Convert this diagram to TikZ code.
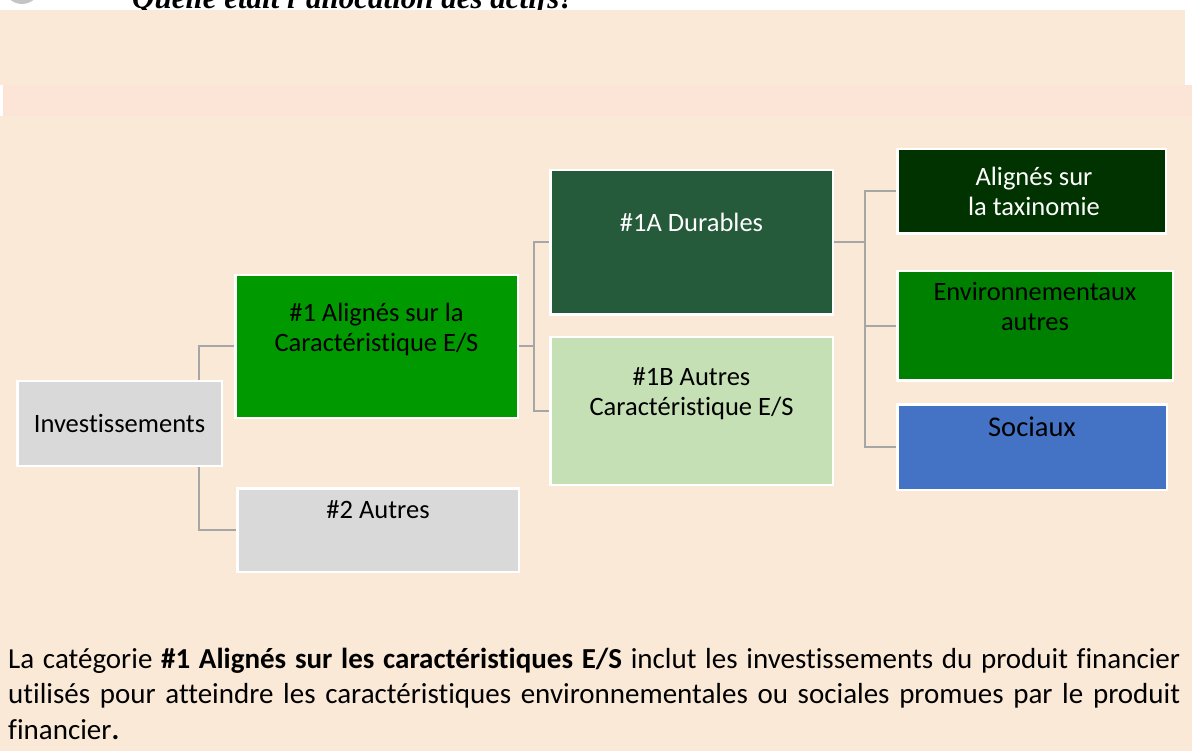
\documentclass[tikz,border=0pt]{standalone}
\usepackage{fontspec}
\setmainfont{Carlito}[Ligatures={TeX,NoCommon}]
\newfontfamily\titlefont{Liberation Serif}
\usetikzlibrary{calc}
\definecolor{peach}{HTML}{FAE9D7}
\definecolor{pinkband}{HTML}{FCE4D6}
\definecolor{circgrey}{HTML}{C4C4C4}
\definecolor{boxgrey}{HTML}{D9D9D9}
\definecolor{greenA}{HTML}{009900}
\definecolor{greenB}{HTML}{255A3B}
\definecolor{greenC}{HTML}{C5E0B4}
\definecolor{greenD}{HTML}{003300}
\definecolor{greenE}{HTML}{008000}
\definecolor{blueF}{HTML}{4472C4}
\definecolor{linegrey}{HTML}{A6A6A6}
\pgfdeclarelayer{bg}
\pgfdeclarelayer{lines}
\pgfsetlayers{bg,lines,main}
\begin{document}
\begin{tikzpicture}[x=1pt,y=-1pt,
  box/.style={draw=white,line width=2.5pt,inner sep=0pt,rectangle},
  boxtxt/.style={font=\fontsize{26.5}{29.5}\selectfont,align=center,inner sep=0pt,anchor=north},
  conn/.style={draw=linegrey,line width=2pt}]
\useasboundingbox (0,0) rectangle (1192,751);
\begin{pgfonlayer}{bg}
\begin{scope}
\clip (0,0) rectangle (1192,751);
\fill[white] (0,0) rectangle (1192,751);
\fill[circgrey] (22,-14) circle (18);
\node[anchor=base west, inner sep=0pt, font=\titlefont\bfseries\itshape\fontsize{31}{36}\selectfont] (title) at (132,9) {Quelle était l’allocation des actifs?};
\fill[peach] (0,10) rectangle (1185,85);
\fill[pinkband] (3,85) rectangle (1192,116);
\fill[peach] (0,116) rectangle (1192,751);
\end{scope}
\end{pgfonlayer}

% boxes
\node[box,fill=boxgrey,minimum width=204.5pt,minimum height=84.5pt,font=\fontsize{26.5}{29.5}\selectfont] (inv) at (119.5,423.5) {Investissements};
\node[box,fill=greenA,minimum width=282.5pt,minimum height=142.5pt] (a1) at (376.5,346.5) {};
\node[box,fill=boxgrey,minimum width=281.5pt,minimum height=83.5pt] (a2) at (378,530) {};
\node[box,fill=greenB,minimum width=282.5pt,minimum height=144.5pt] (b1) at (691.5,242.5) {};
\node[box,fill=greenC,minimum width=282.5pt,minimum height=147.5pt] (b2) at (691.5,411) {};
\node[box,fill=greenD,minimum width=268.5pt,minimum height=84.5pt] (c1) at (1031.5,191.5) {};
\node[box,fill=greenE,minimum width=275.5pt,minimum height=109.5pt] (c2) at (1035,326) {};
\node[box,fill=blueF,minimum width=269.5pt,minimum height=85.5pt] (c3) at (1032,447) {};

% texts
\node[boxtxt] (a1t) at (376.5,301) {\strut\#1 Alignés sur la\\\strut Caractéristique E/S};
\node[boxtxt] (a2t) at (378,498) {\strut\#2 Autres};
\node[boxtxt,text=white] (b1t) at (691.5,211) {\strut\#1A Durables};
\node[boxtxt] (b2t) at (691.5,365) {\strut\#1B Autres\\\strut Caractéristique E/S};
\node[boxtxt,text=white] (c1t) at (1034,165) {\strut Alignés sur\\\strut la taxinomie};
\node[boxtxt] (c2t) at (1035,280) {\strut Environnementaux\\\strut autres};
\node[anchor=base,inner sep=0pt,font=\fontsize{28.5}{32}\selectfont] (c3t) at (1032,436) {Sociaux};

% connectors
\begin{pgfonlayer}{lines}
\coordinate (j1) at (199,0);
\coordinate (j2) at (534,0);
\coordinate (j3) at (865,0);
\draw[conn] (a1.west) -- (a1.west -| j1) |- (a2.west);
\draw[conn] (a1.east) -- (a1.east -| j2);
\draw[conn] (b1.west) -- (b1.west -| j2) |- (b2.west);
\draw[conn] (b1.east) -- (b1.east -| j3);
\draw[conn] (c1.west) -- (c1.west -| j3) |- (c3.west);
\draw[conn] (c2.west) -- (c2.west -| j3);
\end{pgfonlayer}

% body text
\node[anchor=north west, inner sep=0pt, text width=1172pt, align=justify, font=\fontsize{29}{35.5}\selectfont] (body) at (8,643.15) {\strut La catégorie \textbf{\#1 Alignés sur les caractéristiques E/S} inclut les investissements du produit financier\linebreak utilisés pour atteindre les caractéristiques environnementales ou sociales promues par le produit\linebreak financier\textbf{.}};
\end{tikzpicture}
\end{document}
